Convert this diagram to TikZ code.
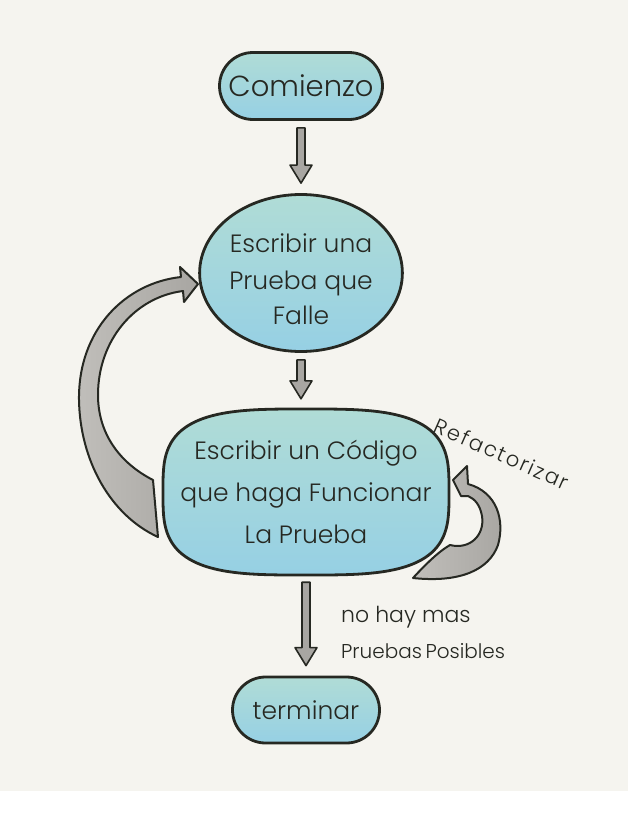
\documentclass[tikz,border=0pt]{standalone}
\usepackage{fontspec}
\setmainfont{Poppins}[UprightFont={* Light}]
\usetikzlibrary{calc,shapes.misc,shapes.geometric}
\definecolor{paper}{RGB}{245,244,239}
\definecolor{ink}{RGB}{38,40,34}
\definecolor{waterA}{RGB}{176,220,214}
\definecolor{waterB}{RGB}{150,208,228}
\definecolor{agray}{RGB}{168,166,162}
\definecolor{agrayl}{RGB}{192,190,186}
\tikzset{
  washfill/.style={draw=ink, line width=2.8pt, top color=waterA, bottom color=waterB},
  wash/.style={washfill, text=ink, align=center, inner sep=0pt},
  pill/.style={wash, rounded rectangle, minimum width=163pt, minimum height=67pt},
  fatarrow/.style={draw=ink, line width=1.6pt, fill=agray, line join=round},
  curvarrow/.style={draw=ink, line width=2pt, left color=agrayl, right color=agray, line join=round},
  lbl/.style={text=ink, inner sep=0pt},
  big/.style={font=\fontsize{29}{40}\selectfont},
  mid/.style={font=\fontsize{25}{38}\selectfont},
}
\newcommand\fatdown[2]{%
  \path ($(#1.south)+(0,7)$) coordinate (s) ($(#2.north)+(0,-10)$) coordinate (t);
  \draw[fatarrow] ($(s)+(-4,0)$) -- ($(s)+(4,0)$) -- ($(s|-t)+(4,-18)$) -- ($(s|-t)+(11,-18)$)
     -- (s|-t) -- ($(s|-t)+(-11,-18)$) -- ($(s|-t)+(-4,-18)$) -- cycle;}
\begin{document}
\begin{tikzpicture}[x=1pt,y=-1pt]
\useasboundingbox (0,0) rectangle (628,835);
\fill[white] (0,0) rectangle (628,835);
\fill[paper] (0,0) rectangle (628,791);

\node[pill, big] (start) at (301,86) {Comienzo};
\node[wash, ellipse, minimum width=198pt, minimum height=157pt, font=\fontsize{25}{38}\selectfont] (test) at (301,273)
  {\raisebox{-8pt}[\height][\depth]{\begin{tabular}{@{}c@{}}Escribir una\\[-1pt]Prueba que\\[-3pt]Falle\end{tabular}}};

% blob for the code node
\coordinate (codec) at (306,492);
\draw[washfill, shift={(codec)}] plot[domain=0.5:360.5, samples=121, smooth cycle]
  ({143*sign(cos(\x))*abs(cos(\x))^0.6}, {83*sign(sin(\x))*abs(sin(\x))^0.6});
\node[ellipse, minimum width=287pt, minimum height=166pt, inner sep=0pt, text=ink, align=center,
  font=\fontsize{25}{42}\selectfont] (code) at (codec)
  {Escribir un Código\\que haga Funcionar\\La Prueba};
\node[pill, mid, minimum width=147pt, minimum height=66pt] (end) at (306,710) {terminar};

\fatdown{start}{test}
\fatdown{test}{code}
\fatdown{code}{end}

% loop back arrow (left)
\draw[curvarrow] (158,537) .. controls (110,515) and (80,460) .. (79,400)
  .. controls (78,330) and (125,283) .. (181,277) -- (180,267) -- (198,284) -- (184,302) -- (183,291)
  .. controls (135,297) and (98,340) .. (98,395) .. controls (98,432) and (118,462) .. (153,480) -- cycle;

% refactor arrow (right)
\draw[curvarrow] (413,578) .. controls (425,565) and (438,552) .. (450,545)
  .. controls (470,550) and (485,535) .. (482,516) .. controls (480,505) and (475,499) .. (468,496)
  -- (461,496) -- (453,480) -- (467,466) -- (468,484)
  .. controls (497,492) and (505,520) .. (498,545) .. controls (489,570) and (460,583) .. (413,578) -- cycle;

\node[lbl, rotate=-24, font=\fontsize{21}{26}\selectfont\addfontfeatures{LetterSpace=9}] (refac) at (502,454) {Refactorizar};
\node[lbl, align=left, anchor=west, font=\fontsize{22}{36}\selectfont] (nomore) at (341,632)
  {no hay mas\\{\fontsize{20}{36}\selectfont Pruebas\hspace{-2pt} Posibles}};
\end{tikzpicture}
\end{document}
